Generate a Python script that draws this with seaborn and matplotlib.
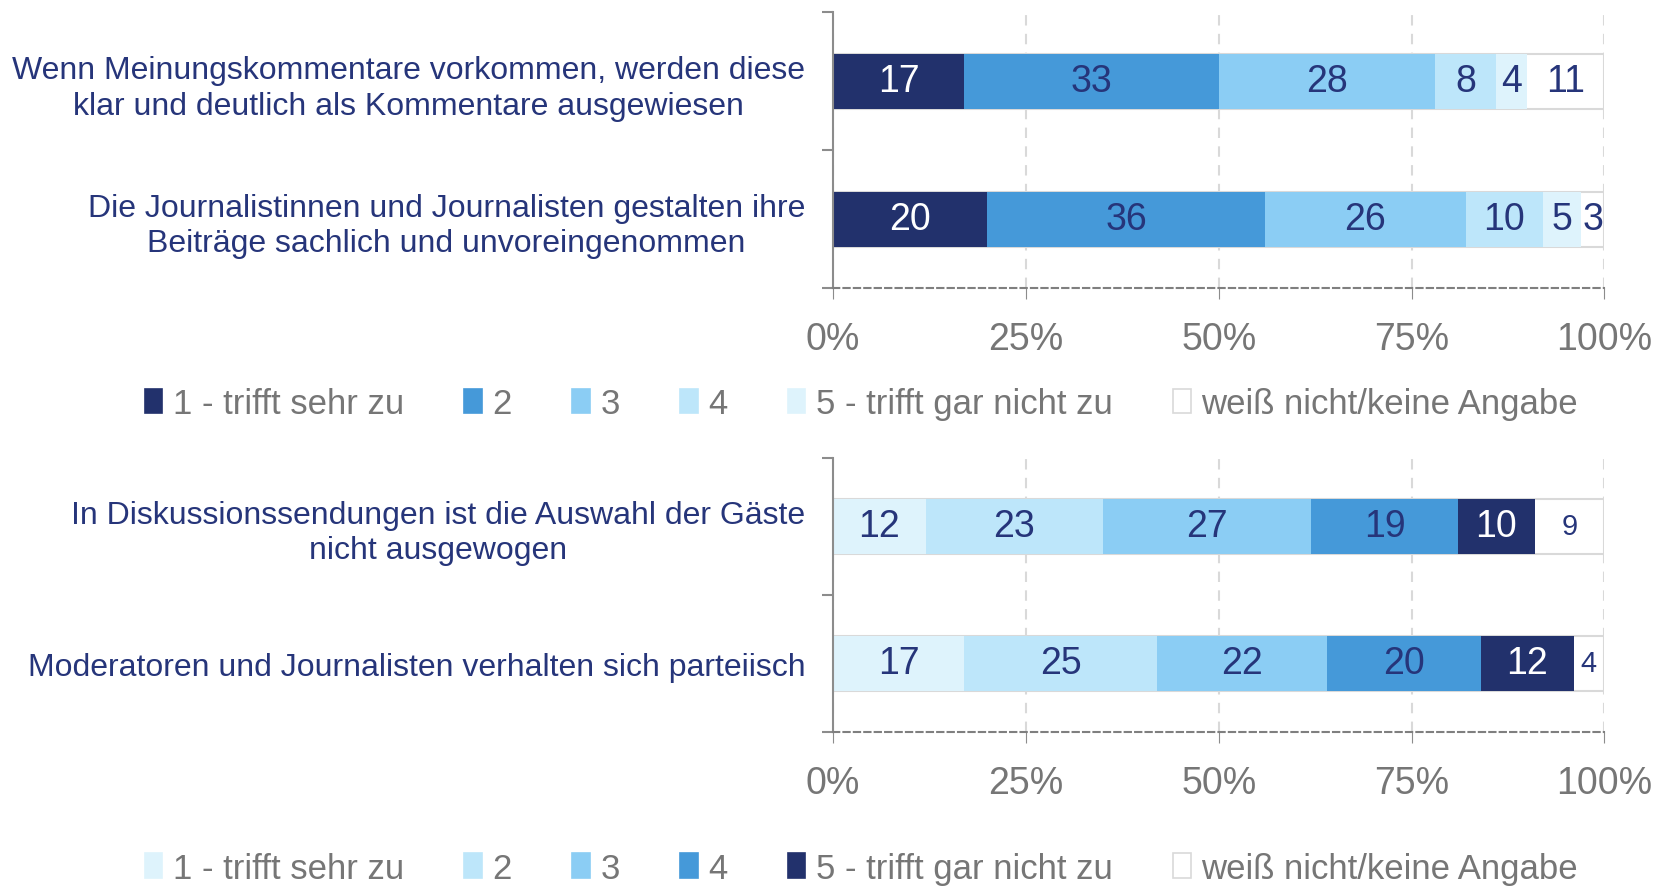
import numpy as np
import pandas as pd
import seaborn as sns
import matplotlib.pyplot as plt
from matplotlib.patches import Patch
from matplotlib.ticker import FixedLocator

# Data
levels = ["1 - trifft sehr zu", "2", "3", "4", "5 - trifft gar nicht zu", "weiß nicht/keine Angabe"]

items_top = [
    "Wenn Meinungskommentare vorkommen, werden diese\nklar und deutlich als Kommentare ausgewiesen",
    "Die Journalistinnen und Journalisten gestalten ihre\nBeiträge sachlich und unvoreingenommen",
]
values_top = [
    [17, 33, 28, 8, 4, 11],
    [20, 36, 26, 10, 5, 3],
]

items_bottom = [
    "In Diskussionssendungen ist die Auswahl der Gäste\nnicht ausgewogen",
    "Moderatoren und Journalisten verhalten sich parteiisch",
]
values_bottom = [
    [12, 23, 27, 19, 10, 9],
    [17, 25, 22, 20, 12, 4],
]

colors_top = ["#22316c", "#4599d9", "#8bcdf4", "#bde6fa", "#def3fc", "#ffffff"]
colors_bottom = ["#def3fc", "#bde6fa", "#8bcdf4", "#4599d9", "#22316c", "#ffffff"]

navy = "#26357a"
grey_txt = "#767676"

sns.set_style("white")
plt.rcParams["font.family"] = ["Liberation Sans", "DejaVu Sans"]

fig = plt.figure(figsize=(16.66, 8.87), dpi=100)
ax_top = fig.add_axes([0.5, 0.674, 0.463, 0.311])
ax_bot = fig.add_axes([0.5, 0.174, 0.463, 0.309])


def draw_panel(ax, items, values, colors, last_fs):
    vals = np.array(values, dtype=float)
    cum = np.minimum(np.cumsum(vals, axis=1), 100)
    # draw cumulative bars from the last level backwards
    for j in range(len(levels) - 1, -1, -1):
        df = pd.DataFrame({"item": items, "cum": cum[:, j]})
        white = colors[j] == "#ffffff"
        sns.barplot(data=df, x="cum", y="item", color=colors[j], width=0.4,
                    orient="h", ax=ax, saturation=1,
                    edgecolor="#d9d9d9" if white else colors[j],
                    linewidth=1.5 if white else 0, zorder=2)
    # segment labels
    for i in range(len(items)):
        start = 0
        for j in range(len(levels)):
            mid = (start + cum[i, j]) / 2
            tc = "white" if colors[j] == "#22316c" else navy
            fs = last_fs if j == len(levels) - 1 else 27
            ax.text(mid, i, str(values[i][j]), ha="center", va="center",
                    color=tc, fontsize=fs, zorder=5)
            start = cum[i, j]

    ax.set_xlim(0, 100)
    ax.set_ylim(1.5, -0.5)
    ax.set_xlabel("")
    ax.set_ylabel("")
    ax.set_xticks([0, 25, 50, 75, 100])
    ax.set_xticklabels(["0%", "25%", "50%", "75%", "100%"])
    ax.tick_params(axis="x", colors="#8c8c8c", labelcolor=grey_txt, labelsize=27,
                   length=8, pad=16, direction="out", bottom=True)
    ax.tick_params(axis="y", which="major", length=0, labelsize=23,
                   labelcolor=navy, pad=20)
    ax.yaxis.set_minor_locator(FixedLocator([-0.5, 0.5, 1.5]))
    ax.tick_params(axis="y", which="minor", length=8, color="#8c8c8c",
                   width=1.5, left=True)
    for lab in ax.get_yticklabels():
        lab.set_multialignment("center")
        lab.set_linespacing(1.25)
    ax.grid(axis="x", color="#d9d9d9", linestyle=(0, (5, 4)), linewidth=1.5, zorder=0)
    ax.set_axisbelow(True)
    for s in ["top", "right"]:
        ax.spines[s].set_visible(False)
    ax.spines["left"].set_color("#8c8c8c")
    ax.spines["left"].set_linewidth(1.5)
    ax.spines["bottom"].set_color("#7f7f7f")
    ax.spines["bottom"].set_linestyle((0, (3, 2)))
    ax.spines["bottom"].set_linewidth(1.5)


def draw_legend(colors, y):
    handles = [Patch(facecolor=c, edgecolor="#d9d9d9" if c == "#ffffff" else c,
                     linewidth=1.2) for c in colors]
    fig.legend(handles, levels, loc="center", bbox_to_anchor=(0.517, y), ncol=6,
               frameon=False, fontsize=25, labelcolor=grey_txt,
               handlelength=0.5, handleheight=0.7, handletextpad=0.3,
               columnspacing=1.75)


draw_panel(ax_top, items_top, values_top, colors_top, 27)
draw_panel(ax_bot, items_bottom, values_bottom, colors_bottom, 21)
draw_legend(colors_top, 0.544)
draw_legend(colors_bottom, 0.02)

fig.savefig("out.png", dpi=100)
